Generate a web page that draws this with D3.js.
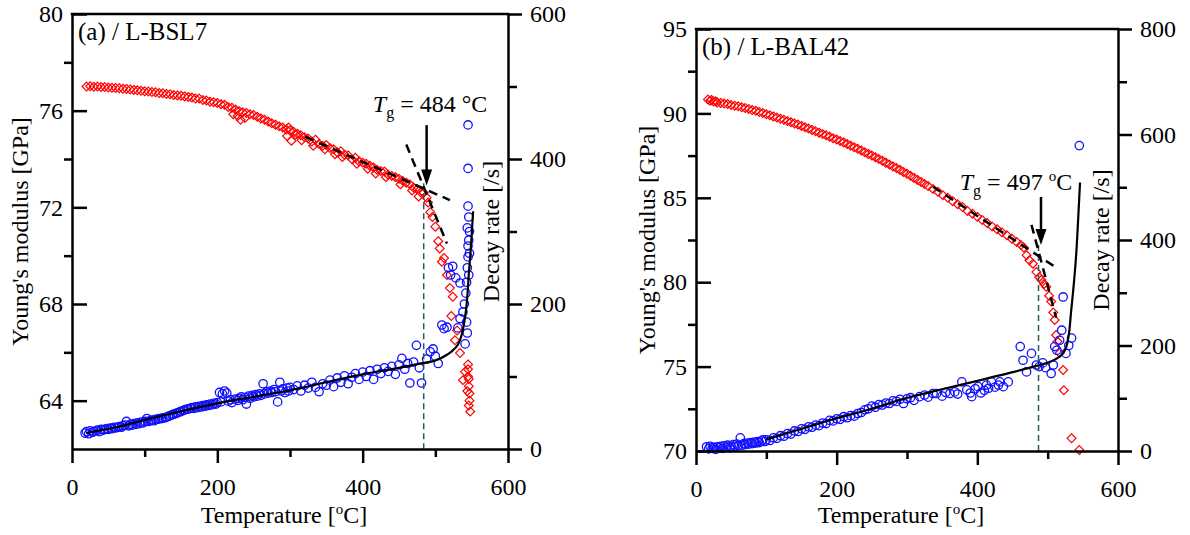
<!DOCTYPE html>
<html>
<head>
<meta charset="utf-8">
<script src="https://cdn.jsdelivr.net/npm/d3@7"></script>
<style>
body { margin: 0; background: #fff; }
svg { display: block; }
</style>
</head>
<body>
<script>
// shared temperature axis
var tempTicks = [0, 200, 400, 600];
var tempMinor = [100, 300, 500];

// (a) L-BSL7
var bslModTicks = [64, 68, 72, 76, 80];
var bslModMinor = [66, 70, 74, 78];
var bslRateTicks = [0, 200, 400, 600];
var bslRateMinor = [100, 300, 500];

var bslModulus = [[20,77.00],[25,77.01],[30,76.99],[35,77.00],[40,76.98],[45,76.98],[50,76.96],[55,76.95],[60,76.94],[65,76.93],[70,76.91],[75,76.90],[80,76.88],[85,76.86],[90,76.84],[95,76.82],[100,76.80],[105,76.79],[110,76.77],[115,76.76],[120,76.73],[125,76.72],[130,76.69],[135,76.68],[140,76.65],[145,76.63],[150,76.62],[155,76.59],[160,76.57],[165,76.54],[170,76.50],[175,76.50],[180,76.44],[185,76.42],[190,76.37],[195,76.35],[200,76.32],[205,76.27],[210,76.24],[215,76.15],[220,76.12],[222,75.85],[225,76.05],[228,75.78],[230,75.98],[232,75.62],[235,75.93],[238,75.70],[240,75.90],[245,75.85],[250,75.82],[255,75.75],[260,75.68],[265,75.62],[270,75.55],[275,75.48],[280,75.42],[285,75.35],[290,75.30],[295,75.22],[296,74.95],[298,75.30],[300,75.18],[302,74.75],[305,75.12],[308,75.00],[310,75.05],[315,74.98],[316,74.78],[320,74.90],[325,74.85],[330,74.72],[332,74.55],[335,74.80],[340,74.62],[345,74.55],[348,74.40],[350,74.58],[355,74.45],[360,74.40],[362,74.20],[365,74.28],[370,74.32],[372,74.08],[375,74.18],[380,74.15],[385,74.00],[390,74.05],[392,73.80],[395,73.90],[400,73.85],[405,73.80],[407,73.60],[410,73.72],[415,73.65],[418,73.40],[420,73.55],[425,73.50],[430,73.48],[432,73.25],[435,73.35],[440,73.30],[445,73.25],[450,73.18],[452,72.95],[455,73.10],[460,73.02],[465,72.95],[468,72.70],[470,72.82],[475,72.75],[477,72.45],[480,72.62],[484,72.60],[488,72.40],[490,72.20],[493,71.80],[496,71.60],[500,71.20],[504,70.60],[506,70.30],[509,69.75],[512,69.90],[516,69.20],[520,68.66],[522,67.50],[524,68.30],[527,66.50],[530,66.90],[534,65.97],[538,64.85],[541,65.20],[544,64.40],[545,65.50],[545,65.30],[545,65.00],[546,64.90],[546,64.60],[546,63.80],[547,64.30],[547,64.00],[548,63.55]];

var bslDecay = [[18,22],[20,24],[23,21],[25,25],[28,23],[30,24],[33,25],[35,26],[38,24],[40,27],[43,26],[45,27],[48,28],[50,27],[53,29],[55,28],[58,30],[60,29],[63,30],[65,31],[68,30],[70,32],[73,33],[75,38],[78,32],[80,34],[83,33],[85,35],[88,34],[90,36],[93,35],[95,37],[98,36],[100,38],[103,42],[105,38],[108,39],[110,40],[113,39],[115,41],[118,41],[120,42],[123,42],[125,43],[128,43],[130,44],[133,45],[135,46],[138,47],[140,48],[143,49],[145,50],[148,51],[150,52],[153,53],[155,54],[158,55],[160,55],[163,56],[165,57],[168,56],[170,58],[173,57],[175,59],[178,58],[180,60],[183,59],[185,61],[188,60],[190,62],[193,61],[195,63],[198,62],[200,64],[203,78],[205,65],[207,76],[210,80],[213,77],[215,66],[218,68],[220,64],[225,69],[228,67],[230,70],[233,72],[235,68],[238,71],[240,62],[243,73],[245,70],[248,74],[250,72],[253,75],[255,73],[258,76],[260,74],[263,90],[265,76],[268,79],[270,77],[273,80],[275,78],[278,82],[280,79],[283,65],[286,92],[288,80],[290,83],[293,78],[296,84],[298,80],[300,85],[305,82],[310,87],[315,80],[320,88],[325,84],[330,92],[335,85],[340,79],[345,90],[350,88],[355,95],[360,86],[365,98],[370,92],[375,101],[380,90],[385,99],[390,104],[395,96],[400,106],[405,100],[410,108],[415,96],[420,110],[425,104],[430,112],[435,107],[440,114],[445,103],[450,116],[454,125],[458,110],[462,118],[465,91],[470,120],[474,143],[478,112],[481,91],[488,124],[493,134],[497,138],[500,128],[504,118],[509,171],[512,166],[516,168],[518,250],[521,240],[524,252],[528,236],[531,167],[534,229],[534,180],[538,189],[540,200],[541,145],[542,215],[543,230],[543,175],[544,250],[544,160],[544,305],[545,265],[545,280],[545,335],[545,387],[545,447],[546,288],[546,240],[546,320],[547,300],[547,270]];

var bslFit = [[20,22],[60,30],[100,40],[150,52],[200,63],[250,72],[300,81],[350,92],[400,103],[450,112],[480,118],[500,122],[516,130],[526,138],[534,150],[539,170],[542,190],[544,210],[546,240],[548,265],[550,295],[552,328]];
var bslTangentA = [[321,74.92],[520,72.30]];
var bslTangentB = [[460,74.60],[516,70.50]];

// (b) L-BAL42
var balModTicks = [70, 75, 80, 85, 90, 95];
var balModMinor = [72.5, 77.5, 82.5, 87.5, 92.5];
var balRateTicks = [0, 200, 400, 600, 800];
var balRateMinor = [100, 300, 500, 700];

var balModulus = [[17,90.82],[20,90.75],[22,90.80],[25,90.70],[28,90.72],[30,90.65],[35,90.62],[40,90.58],[45,90.55],[50,90.50],[55,90.45],[60,90.42],[65,90.36],[70,90.32],[75,90.26],[80,90.20],[85,90.15],[90,90.08],[95,90.02],[100,89.95],[105,89.89],[110,89.82],[115,89.76],[120,89.68],[125,89.62],[130,89.55],[135,89.48],[140,89.40],[145,89.34],[150,89.26],[155,89.18],[160,89.10],[165,89.02],[170,88.94],[175,88.86],[180,88.78],[185,88.70],[190,88.62],[195,88.53],[200,88.45],[205,88.36],[210,88.28],[215,88.18],[220,88.08],[225,87.99],[230,87.90],[235,87.80],[240,87.70],[245,87.60],[250,87.50],[255,87.40],[260,87.30],[265,87.19],[270,87.08],[275,86.97],[280,86.86],[285,86.76],[290,86.65],[295,86.53],[300,86.42],[305,86.30],[310,86.18],[315,86.06],[320,85.94],[325,85.82],[330,85.70],[337,85.52],[344,85.36],[351,85.15],[358,85.00],[365,84.80],[372,84.62],[379,84.45],[386,84.22],[393,84.06],[400,83.87],[407,83.68],[414,83.50],[421,83.30],[428,83.14],[435,82.96],[442,82.78],[449,82.58],[456,82.38],[462,82.20],[466,82.05],[470,81.60],[474,81.30],[479,81.10],[484,80.60],[488,80.30],[491,80.13],[495,79.90],[498,79.73],[502,79.20],[505,78.85],[508,78.20],[510,77.76],[512,76.87],[514,76.48],[517,75.80],[522,74.80],[523,73.60],[534,70.75],[545,70.06]];

var balDecay = [[15,8],[18,4],[20,9],[23,5],[25,7],[28,3],[30,8],[33,6],[35,9],[38,5],[40,10],[43,7],[45,11],[48,6],[50,9],[53,12],[55,8],[58,13],[60,10],[63,25],[65,11],[68,14],[70,12],[73,15],[75,13],[78,16],[80,14],[83,17],[85,15],[88,18],[90,16],[93,19],[95,21],[98,18],[100,21],[105,20],[110,25],[115,24],[120,29],[125,28],[130,33],[135,32],[140,38],[145,37],[150,42],[155,41],[160,46],[165,45],[170,49],[175,48],[180,53],[185,52],[190,58],[195,57],[200,61],[205,60],[210,65],[215,63],[220,67],[225,66],[230,71],[235,73],[240,78],[245,80],[250,85],[255,83],[260,88],[265,87],[270,91],[275,90],[280,95],[285,94],[290,98],[295,90],[300,99],[305,101],[310,96],[318,103],[325,106],[330,102],[337,109],[342,109],[350,104],[355,111],[361,109],[368,112],[372,108],[378,131],[385,116],[390,110],[392,103],[397,118],[401,122],[405,110],[410,115],[413,125],[416,119],[420,131],[425,121],[430,125],[432,131],[437,122],[444,131],[461,198],[465,172],[470,150],[477,185],[484,163],[488,160],[493,167],[497,158],[505,147],[508,163],[510,198],[513,191],[517,210],[520,229],[522,292],[526,185],[530,200],[534,214],[545,579]];

var balFit = [[100,22],[150,42],[200,62],[250,80],[290,97],[350,117],[400,133],[446,148],[480,160],[505,170],[517,179],[524,190],[528,205],[531,230],[533,260],[536,300],[539,345],[541,381],[543,430],[546,509]];
var balTangentA = [[337,85.65],[512,80.87]];
var balTangentB = [[477,83.40],[512,77.90]];

var serif = '"Liberation Serif", "Times New Roman", serif';

var svg = d3.select('body').append('svg')
  .attr('width', 1190)
  .attr('height', 535)
  .attr('font-family', serif);

function styleAxis(a) {
  a.attr('font-family', serif).attr('font-size', 24);
  a.selectAll('.domain, .tick line').attr('stroke', '#000').attr('stroke-width', 2.5);
  a.selectAll('text').attr('fill', '#000');
}

function drawPanel(p) {
  var x = d3.scaleLinear().domain([0, 600]).range([p.left, p.right]);
  var yE = d3.scaleLinear().domain(p.eDomain).range([p.bottom, p.top]);
  var yD = d3.scaleLinear().domain(p.dDomain).range([p.bottom, p.top]);
  var g = svg.append('g');

  // data
  g.append('g').selectAll('path')
    .data(p.modulus)
    .enter().append('path')
    .attr('transform', function(d) { return 'translate(' + x(d[0]) + ',' + yE(d[1]) + ')'; })
    .attr('d', 'M0,-4.4L4.4,0L0,4.4L-4.4,0Z')
    .attr('fill', 'none')
    .attr('stroke', '#ff0000')
    .attr('stroke-width', 1.2);

  g.append('g').selectAll('circle')
    .data(p.decay)
    .enter().append('circle')
    .attr('cx', function(d) { return x(d[0]); })
    .attr('cy', function(d) { return yD(d[1]); })
    .attr('r', 4.2)
    .attr('fill', 'none')
    .attr('stroke', '#1010ff')
    .attr('stroke-width', 1.3);

  // Tg marker
  g.append('line')
    .attr('x1', x(p.tgLine)).attr('x2', x(p.tgLine))
    .attr('y1', yE(p.tgTop)).attr('y2', yE(p.eDomain[0]))
    .attr('stroke', '#2a5a55').attr('stroke-width', 1.5)
    .attr('stroke-dasharray', '6,4');

  var lineE = d3.line().x(function(d) { return x(d[0]); }).y(function(d) { return yE(d[1]); });
  var lineD = d3.line().x(function(d) { return x(d[0]); }).y(function(d) { return yD(d[1]); });

  [p.tanA, p.tanB].forEach(function(t) {
    g.append('path').attr('d', lineE(t))
      .attr('fill', 'none').attr('stroke', '#000')
      .attr('stroke-width', 2.5).attr('stroke-dasharray', '9,6');
  });

  g.append('path').attr('d', lineD.curve(d3.curveMonotoneX)(p.fit))
    .attr('fill', 'none').attr('stroke', '#000').attr('stroke-width', 2.2);

  // arrow
  var ax = x(p.arrowT), ay0 = yE(p.arrowFrom), ay1 = yE(p.arrowTo);
  g.append('line')
    .attr('x1', ax).attr('x2', ax).attr('y1', ay0).attr('y2', ay1 - 12)
    .attr('stroke', '#000').attr('stroke-width', 2.5);
  g.append('path')
    .attr('d', 'M' + (ax - 5.5) + ',' + (ay1 - 16) + 'L' + (ax + 5.5) + ',' + (ay1 - 16) + 'L' + ax + ',' + ay1 + 'Z')
    .attr('fill', '#000');

  // Tg label
  var t = g.append('text')
    .attr('x', x(p.labelT)).attr('y', yE(p.labelE))
    .attr('font-size', 24).attr('fill', '#000');
  t.append('tspan').attr('font-style', 'italic').text('T');
  t.append('tspan').attr('font-size', 16).attr('dy', 6).text('g');
  if (p.tightDegree) {
    t.append('tspan').attr('dy', -6).text(' = ' + p.tgValue + ' \u00b0C');
  } else {
    t.append('tspan').attr('dy', -6).text(' = ' + p.tgValue + ' ');
    t.append('tspan').attr('font-size', 15).attr('dy', -9).text('o');
    t.append('tspan').attr('dy', 9).text('C');
  }

  // axes
  var bottom = g.append('g').attr('transform', 'translate(0,' + p.bottom + ')')
    .call(d3.axisBottom(x).tickValues(tempTicks).tickSize(14).tickSizeOuter(0).tickPadding(15).tickFormat(d3.format('d')));
  styleAxis(bottom);
  var bottomMinor = g.append('g').attr('transform', 'translate(0,' + p.bottom + ')')
    .call(d3.axisBottom(x).tickValues(tempMinor).tickSize(8).tickFormat(''));
  bottomMinor.select('.domain').remove();
  styleAxis(bottomMinor);

  var left = g.append('g').attr('transform', 'translate(' + p.left + ',0)')
    .call(d3.axisLeft(yE).tickValues(p.eTicks).tickSize(-15).tickSizeOuter(0).tickPadding(9).tickFormat(d3.format('d')));
  styleAxis(left);
  var leftMinor = g.append('g').attr('transform', 'translate(' + p.left + ',0)')
    .call(d3.axisLeft(yE).tickValues(p.eMinor).tickSize(8).tickFormat(''));
  leftMinor.select('.domain').remove();
  styleAxis(leftMinor);

  var right = g.append('g').attr('transform', 'translate(' + p.right + ',0)')
    .call(d3.axisRight(yD).tickValues(p.dTicks).tickSize(14).tickSizeOuter(0).tickPadding(8).tickFormat(d3.format('d')));
  styleAxis(right);
  var rightMinor = g.append('g').attr('transform', 'translate(' + p.right + ',0)')
    .call(d3.axisRight(yD).tickValues(p.dMinor).tickSize(9).tickFormat(''));
  rightMinor.select('.domain').remove();
  styleAxis(rightMinor);

  g.append('line')
    .attr('x1', p.left).attr('x2', p.right).attr('y1', p.top).attr('y2', p.top)
    .attr('stroke', '#000').attr('stroke-width', 2.5).attr('stroke-linecap', 'square');

  // titles
  g.append('text')
    .attr('x', p.left + 6).attr('y', p.top + 26)
    .attr('font-size', 25).attr('fill', '#000')
    .text(p.title);

  var xt = g.append('text')
    .attr('x', (p.left + p.right) / 2 - 6).attr('y', 523)
    .attr('text-anchor', 'middle')
    .attr('font-size', 24).attr('fill', '#000');
  xt.append('tspan').text('Temperature [');
  xt.append('tspan').attr('font-size', 15).attr('dy', -9).text('o');
  xt.append('tspan').attr('dy', 9).text('C]');

  g.append('text')
    .attr('transform', 'translate(' + p.yTitleX + ',' + ((p.top + p.bottom) / 2) + ') rotate(-90)')
    .attr('text-anchor', 'middle')
    .attr('font-size', 24).attr('fill', '#000')
    .text("Young's modulus [GPa]");

  g.append('text')
    .attr('transform', 'translate(' + (p.right - 9) + ',' + ((p.top + p.bottom) / 2) + ') rotate(-90)')
    .attr('text-anchor', 'middle')
    .attr('font-size', 24).attr('fill', '#000')
    .text('Decay rate [/s]');
}

drawPanel({
  left: 72, right: 508, top: 14, bottom: 449,
  eDomain: [62, 80], dDomain: [0, 600],
  eTicks: bslModTicks, eMinor: bslModMinor,
  dTicks: bslRateTicks, dMinor: bslRateMinor,
  modulus: bslModulus, decay: bslDecay, fit: bslFit,
  tanA: bslTangentA, tanB: bslTangentB,
  tgLine: 484, tgTop: 73.0,
  arrowT: 488, arrowFrom: 75.4, arrowTo: 72.9,
  labelT: 414, labelE: 75.94, tgValue: '484', tightDegree: true,
  title: '(a) / L-BSL7', yTitleX: 28
});

drawPanel({
  left: 696, right: 1118, top: 29, bottom: 451,
  eDomain: [70, 95], dDomain: [0, 800],
  eTicks: balModTicks, eMinor: balModMinor,
  dTicks: balRateTicks, dMinor: balRateMinor,
  modulus: balModulus, decay: balDecay, fit: balFit,
  tanA: balTangentA, tanB: balTangentB,
  tgLine: 487, tgTop: 82.2,
  arrowT: 490.5, arrowFrom: 85.05, arrowTo: 82.2,
  labelT: 375, labelE: 85.46, tgValue: '497', tightDegree: false,
  title: '(b) / L-BAL42', yTitleX: 655
});
</script>
</body>
</html>
